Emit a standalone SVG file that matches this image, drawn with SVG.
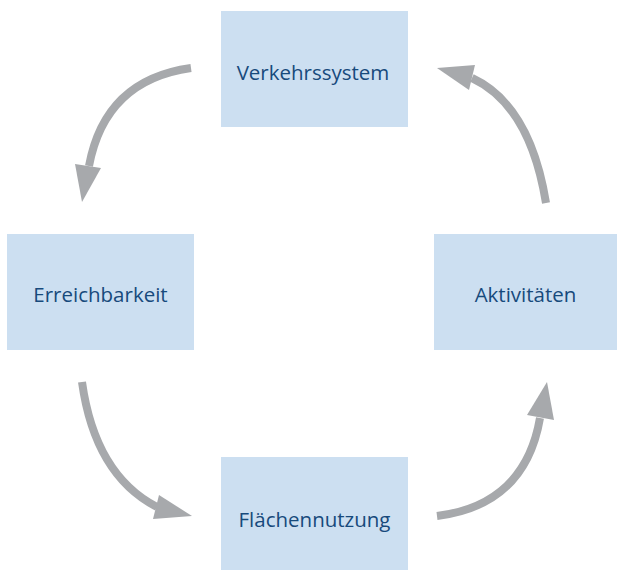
<svg xmlns="http://www.w3.org/2000/svg" width="617" height="570" viewBox="0 0 617 570">
<style>
.box{fill:#CCDFF1;}
.lbl{font-family:"Open Sans","Liberation Sans",sans-serif;font-size:20.5px;fill:#174A7C;text-anchor:middle;}
.arc{fill:none;stroke:#A7A9AC;stroke-width:8;}
.head{fill:#A7A9AC;}
</style>
<rect width="617" height="570" fill="#FFFFFF"/>
<g id="connectors">
<path class="arc" d="M191 68 Q105 80 89 166"/>
<polygon class="head" points="82,202 75,164 101,168"/>
<path class="arc" d="M82 382 Q95 475 157 507"/>
<polygon class="head" points="192,516 159,495 153,519"/>
<path class="arc" d="M437 516 Q525 505 540 418"/>
<polygon class="head" points="547,382 527,415 554,420"/>
<path class="arc" d="M546 203 Q530 105 472 78"/>
<polygon class="head" points="437,68 475,65 469,90"/>
</g>
<g id="verkehrssystem">
<rect class="box" x="221" y="11" width="187" height="116"/>
<text class="lbl" x="313" y="79.5">Verkehrssystem</text>
</g>
<g id="erreichbarkeit">
<rect class="box" x="7" y="234" width="187" height="116"/>
<text class="lbl" x="100.5" y="302">Erreichbarkeit</text>
</g>
<g id="aktivitaeten">
<rect class="box" x="434" y="234" width="183" height="116"/>
<text class="lbl" x="525.5" y="302">Aktivitäten</text>
</g>
<g id="flaechennutzung">
<rect class="box" x="221" y="457" width="187" height="113"/>
<text class="lbl" x="314.5" y="526.5">Flächennutzung</text>
</g>
</svg>
